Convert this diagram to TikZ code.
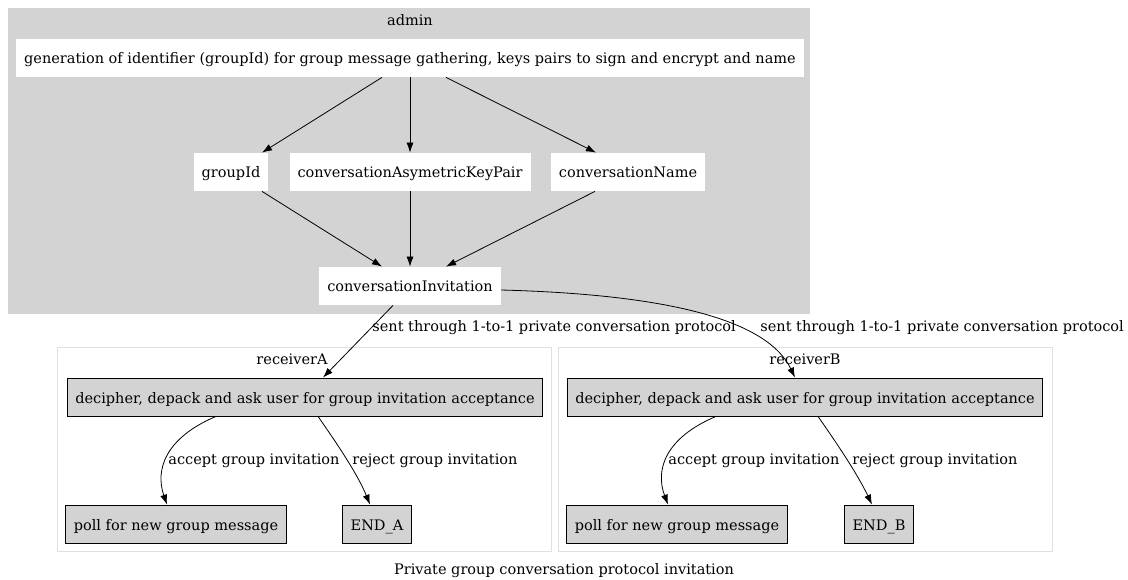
\documentclass[tikz,border=0pt]{standalone}
\usepackage{fontspec}
\setmainfont{DejaVu Serif}
\usetikzlibrary{arrows.meta}
\definecolor{gvgray}{HTML}{D3D3D3}

\begin{document}
\begin{tikzpicture}[x=1pt,y=-1pt,
    font=\fontsize{14.5}{17}\selectfont,
    line width=0.8pt,
    >={Latex[length=10pt,width=7pt]},
    wbox/.style={fill=white,minimum height=38pt,inner xsep=8pt,text height=13pt,text depth=1pt},
    gbox/.style={draw=black,fill=gvgray,minimum height=38pt,inner xsep=8pt,text height=13pt,text depth=1pt},
    elabel/.style={inner sep=0pt,anchor=west},
    clabel/.style={inner sep=0pt}]
      \useasboundingbox[fill=white] (0,0) rectangle (1128,580) ;
      % clusters
      \fill[gvgray] (8,8) rectangle (810,314) ;
      \node[clabel] (admin) at (410,20) {admin} ;
      \draw[draw=black!12] (57,347) rectangle (551,551) ;
      \node[clabel] (recA) at (292,359) {receiverA} ;
      \draw[draw=black!12] (558,347) rectangle (1052,551) ;
      \node[clabel] (recB) at (805,359) {receiverB} ;
      % admin nodes
      \node[wbox] (gen) at (410,58) {generation of identifier (groupId) for group message gathering, keys pairs to sign and encrypt and name} ;
      \node[wbox] (gid) at (231,172) {groupId} ;
      \node[wbox] (keys) at (410,172) {conversationAsymetricKeyPair} ;
      \node[wbox] (cname) at (628,172) {conversationName} ;
      \node[wbox] (inv) at (410,286) {conversationInvitation} ;
      \draw[->] ([xshift=-28]gen.south) -- ([xshift=31]gid.north) ;
      \draw[->] (gen.south) -- (keys.north) ;
      \draw[->] ([xshift=36]gen.south) -- ([xshift=-32]cname.north) ;
      \draw[->] ([xshift=31]gid.south) -- ([xshift=-28]inv.north) ;
      \draw[->] (keys.south) -- (inv.north) ;
      \draw[->] ([xshift=-33]cname.south) -- ([xshift=36]inv.north) ;
      % receivers
      \node[gbox] (decA) at (305,397) {decipher, depack and ask user for group invitation acceptance} ;
      \node[gbox] (pollA) at (176,524) {poll for new group message} ;
      \node[gbox] (endA) at (377,524) {END\_A} ;
      \node[gbox] (decB) at (805,397) {decipher, depack and ask user for group invitation acceptance} ;
      \node[gbox] (pollB) at (677,524) {poll for new group message} ;
      \node[gbox] (endB) at (879,524) {END\_B} ;
      \draw[->] ([xshift=-17]inv.south) -- ([xshift=18]decA.north) ;
      \node[elabel] (sentA) at (372,328) {sent through 1-to-1 private conversation protocol} ;
      \draw[->] ([yshift=-4]inv.east) .. controls (650,294) and (765,315) .. ([xshift=-10]decB.north) ;
      \node[elabel] (sentB) at (760,328) {sent through 1-to-1 private conversation protocol} ;
      \draw[->] ([xshift=-89]decA.south) .. controls (165,438) and (155,470) .. ([xshift=-9]pollA.north) ;
      \node[elabel] (accA) at (168,461) {accept group invitation} ;
      \draw[->] ([xshift=13]decA.south) .. controls (338,445) and (358,475) .. ([xshift=-7]endA.north) ;
      \node[elabel] (rejA) at (352,461) {reject group invitation} ;
      \draw[->] ([xshift=-89]decB.south) .. controls (665,438) and (655,470) .. ([xshift=-9]pollB.north) ;
      \node[elabel] (accB) at (668,461) {accept group invitation} ;
      \draw[->] ([xshift=13]decB.south) .. controls (838,445) and (858,475) .. ([xshift=-7]endB.north) ;
      \node[elabel] (rejB) at (852,461) {reject group invitation} ;
      \node[clabel] (title) at (564,571) {Private group conversation protocol invitation} ;
    \end{tikzpicture}
\end{document}
